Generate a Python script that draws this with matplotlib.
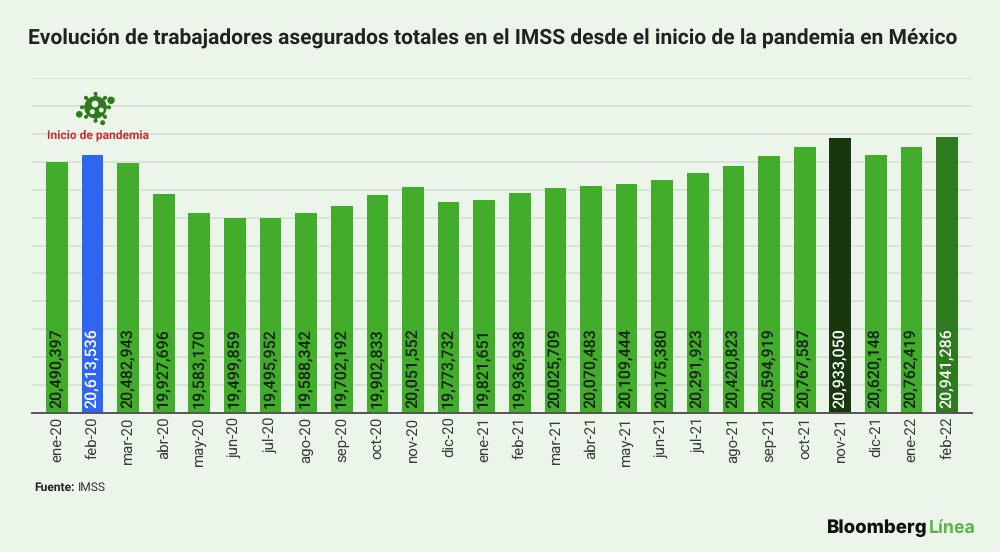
import matplotlib
matplotlib.use("Agg")
import matplotlib.pyplot as plt
from matplotlib.patches import Circle
import numpy as np

months = ["ene-20", "feb-20", "mar-20", "abr-20", "may-20", "jun-20", "jul-20", "ago-20", "sep-20",
          "oct-20", "nov-20", "dic-20", "ene-21", "feb-21", "mar-21", "abr-21", "may-21", "jun-21",
          "jul-21", "ago-21", "sep-21", "oct-21", "nov-21", "dic-21", "ene-22", "feb-22"]
workers = [20490397, 20613536, 20482943, 19927696, 19583170, 19499859, 19495952, 19588342, 19702192,
           19902833, 20051552, 19773732, 19821651, 19936938, 20025709, 20070483, 20109444, 20175380,
           20291923, 20420823, 20594919, 20767587, 20933050, 20620148, 20762419, 20941286]

BG = "#ebf5ea"
GREEN = "#41ad2a"
special_colors = {"feb-20": "#2e66f0", "nov-21": "#17380d", "feb-22": "#2e7a1e"}
white_labels = ["feb-20", "nov-21", "feb-22"]

plt.rcParams["font.family"] = ["Roboto", "DejaVu Sans"]
plt.rcParams["text.hinting"] = "none"
plt.rcParams["text.hinting_factor"] = 1

W, H = 1000, 552
fig = plt.figure(figsize=(W / 100, H / 100), dpi=100, facecolor=BG)
ax = fig.add_axes([32 / W, 1 - 413 / H, 940 / W, 335 / H], facecolor=BG)

colors = [special_colors.get(m, GREEN) for m in months]
x = np.arange(len(months))
ax.bar(x, workers, width=0.61, color=colors, zorder=2)

ax.set_xlim(-0.70, 25.70)
ax.set_ylim(16000000, 22000000)
ax.set_yticks(np.arange(16000000, 22000001, 500000))
ax.yaxis.grid(True, color="#d3dfcf", linewidth=1.1)
ax.set_axisbelow(True)
ax.tick_params(axis="y", length=0, labelleft=False)
ax.tick_params(axis="x", length=0, pad=2.5)
ax.set_xticks(x)
ax.set_xticklabels(months, rotation=90, fontsize=10.6, color="#3a3a3a")
for side in ["top", "left", "right"]:
    ax.spines[side].set_visible(False)
ax.spines["bottom"].set_color("#555555")
ax.spines["bottom"].set_linewidth(1.4)
ax.spines["bottom"].set_zorder(3)

for i, (m, v) in enumerate(zip(months, workers)):
    ax.annotate(f"{v:,}", (i, 16000000), xytext=(0, 3.5), textcoords="offset points",
                rotation=90, ha="center", va="bottom", fontsize=11.2, fontweight="medium", zorder=4,
                color="white" if m in white_labels else "#10200c")

# overlay in pixel coordinates for title, notes and the icon
ov = fig.add_axes([0, 0, 1, 1], facecolor="none")
ov.set_xlim(0, W)
ov.set_ylim(H, 0)
ov.axis("off")

ov.text(28, 38.5, "Evolución de trabajadores asegurados totales en el IMSS desde el inicio de la pandemia en México",
        fontsize=15.1, fontweight="bold", color="#222222", va="center", ha="left")
ov.text(98.5, 135, "Inicio de pandemia", fontsize=8.8, fontweight="bold", color="#cf2a33",
        va="center", ha="center")

ov.text(34, 488, "Fuente:", fontsize=8.9, fontweight="bold", color="#222222", va="center")
ov.text(78, 488, "IMSS", fontsize=8.9, color="#333333", va="center")

ov.text(827, 528, "Bloomberg", fontsize=13.4, fontweight=800, family=["Inter", "DejaVu Sans"],
        color="#111111", va="center")
ov.text(929, 528, "Línea", fontsize=12.8, fontweight="bold", family=["Inter", "DejaVu Sans"],
        color="#5cb646", va="center")

# virus icon
ICON = "#2e7a1e"
cx, cy = 95.5, 107.3
ov.add_patch(Circle((cx, cy), 10.5, color=ICON, zorder=5))
for ang in np.arange(0, 360, 45):
    dx, dy = np.cos(np.radians(ang)), np.sin(np.radians(ang))
    ov.plot([cx, cx + 13 * dx], [cy, cy + 13 * dy], color=ICON, lw=1.6, zorder=5)
    ov.add_patch(Circle((cx + 13.5 * dx, cy + 13.5 * dy), 1.3, color=ICON, zorder=5))
for px, py, r in [(95, 104, 2.7), (92.3, 111.7, 1.8), (101.3, 110, 1.7)]:
    ov.add_patch(Circle((px, py), r, color=BG, zorder=6))
for px, py, r in [(111, 100.3, 3), (79.3, 114.3, 2.6), (102.7, 122.7, 1.8)]:
    ov.add_patch(Circle((px, py), r, color=ICON, zorder=5))

fig.savefig("out.png", dpi=100, facecolor=BG)
